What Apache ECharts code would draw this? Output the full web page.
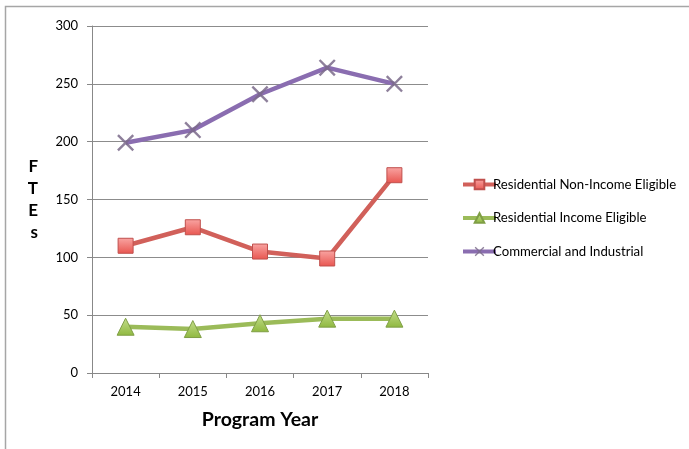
<!DOCTYPE html>
<html>
<head>
<meta charset="utf-8">
<script src="https://cdn.jsdelivr.net/npm/echarts@6/dist/echarts.min.js"></script>
<style>html,body{margin:0;padding:0;background:#fff}#c{width:689px;height:449px}</style>
</head>
<body>
<div id="c"></div>
<script>
var categories = ['2014', '2015', '2016', '2017', '2018'];
var resNonIncome = [110, 126, 105, 99, 171];
var resIncome = [40, 38, 43, 47, 47];
var commercial = [199, 210, 241, 264, 250];
var seriesNames = ['Residential Non-Income Eligible', 'Residential Income Eligible', 'Commercial and Industrial'];
var yTicks = [0, 50, 100, 150, 200, 250, 300];

var FONT = 'Lato, "Open Sans", sans-serif';
var xSym = 'path://M1,0L5,4L9,0L10,1L6,5L10,9L9,10L5,6L1,10L0,9L4,5L0,1Z';

var chart = echarts.init(document.getElementById('c'));
chart.setOption({
  animation: false,
  textStyle: {fontFamily: FONT},
  graphic: [{
    type: 'rect', shape: {x: 5.5, y: 6.5, width: 700, height: 460},
    style: {fill: 'none', stroke: '#a6a6a6', lineWidth: 1.5}, z: -10
  }],
  grid: {left: 92, right: 261, top: 26, bottom: 76},
  legend: {
    orient: 'vertical', left: 456, top: 173, itemGap: 20.5,
    itemWidth: 33, itemHeight: 12,
    lineStyle: {width: 4},
    textStyle: {fontFamily: FONT, fontSize: 13.2, color: '#000', padding: [0, 0, 0, -8]},
    data: seriesNames
  },
  xAxis: {
    type: 'category', data: categories, boundaryGap: true,
    axisLine: {lineStyle: {color: '#888', width: 1}},
    axisTick: {show: true, length: 5, lineStyle: {color: '#888'}},
    axisLabel: {color: '#000', fontSize: 13, margin: 12, fontFamily: FONT},
    name: 'Program Year', nameLocation: 'middle', nameGap: 37,
    nameTextStyle: {fontSize: 19.5, fontWeight: 'bold', color: '#000', fontFamily: FONT}
  },
  yAxis: {
    type: 'value', min: 0, max: 300, interval: 50,
    axisLine: {show: true, lineStyle: {color: '#888', width: 1}},
    axisTick: {show: true, length: 5, lineStyle: {color: '#888'}},
    splitLine: {lineStyle: {color: '#8c8c8c', width: 1}},
    axisLabel: {color: '#000', fontSize: 13, margin: 14, fontFamily: FONT},
    name: 'F\nT\nE\ns', nameLocation: 'middle', nameRotate: 0, nameGap: 54,
    nameTextStyle: {fontSize: 17, fontWeight: 'bold', color: '#000', lineHeight: 22, fontFamily: FONT}
  },
  series: [{
    name: seriesNames[0], type: 'line', data: resNonIncome,
    symbol: 'rect', symbolSize: 15,
    lineStyle: {color: '#d1605a', width: 4.5},
    itemStyle: {
      color: new echarts.graphic.LinearGradient(0, 0, 0, 1, [{offset: 0, color: '#f9a5a3'}, {offset: 1, color: '#e8554f'}]),
      borderColor: '#c0504d', borderWidth: 1
    }
  }, {
    name: seriesNames[1], type: 'line', data: resIncome,
    symbol: 'triangle', symbolSize: 17,
    lineStyle: {color: '#9bbb59', width: 4.5},
    itemStyle: {
      color: new echarts.graphic.LinearGradient(0, 0, 0, 1, [{offset: 0, color: '#c4de8c'}, {offset: 1, color: '#8fb83f'}]),
      borderColor: '#7f9e45', borderWidth: 1
    }
  }, {
    name: seriesNames[2], type: 'line', data: commercial,
    symbol: xSym, symbolSize: 17,
    lineStyle: {color: '#8a6db0', width: 4.5},
    itemStyle: {color: '#7a6a8a', borderColor: '#7a6a8a', borderWidth: 0, opacity: 0.85}
  }]
});
</script>
</body>
</html>
